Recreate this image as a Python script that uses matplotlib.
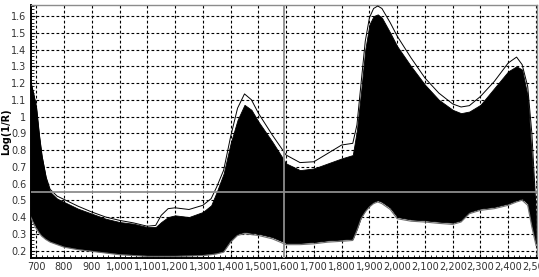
import matplotlib
matplotlib.use("Agg")
import matplotlib.pyplot as plt
from matplotlib.ticker import FuncFormatter, MultipleLocator

# wavelength grid (nm)
wl = [680, 690, 700, 710, 720, 735, 750, 775, 800, 850, 900, 950, 1000, 1050,
      1100, 1130, 1150, 1175, 1200, 1250, 1300, 1330, 1350, 1375, 1400, 1425,
      1450, 1475, 1500, 1550, 1600, 1650, 1700, 1750, 1800, 1840, 1855, 1870,
      1885, 1900, 1915, 1930, 1945, 1975, 2000, 2050, 2100, 2150, 2200, 2230,
      2260, 2300, 2350, 2400, 2430, 2450, 2470, 2485, 2500]

# upper edge of the bundle of spectra
band_top = [1.20, 1.13, 1.05, 0.89, 0.76, 0.63, 0.55, 0.51, 0.49, 0.45, 0.42,
            0.39, 0.37, 0.36, 0.34, 0.34, 0.37, 0.40, 0.41, 0.40, 0.43, 0.47,
            0.55, 0.66, 0.84, 0.98, 1.07, 1.04, 0.97, 0.85, 0.72, 0.68, 0.69,
            0.72, 0.75, 0.77, 0.92, 1.15, 1.40, 1.55, 1.60, 1.61, 1.59, 1.50,
            1.42, 1.30, 1.19, 1.10, 1.04, 1.02, 1.03, 1.07, 1.17, 1.27, 1.30,
            1.28, 1.12, 0.75, 0.40]

# lower edge of the bundle
band_bottom = [0.41, 0.37, 0.34, 0.31, 0.29, 0.27, 0.255, 0.24, 0.225, 0.21,
               0.20, 0.19, 0.18, 0.175, 0.17, 0.17, 0.17, 0.17, 0.17, 0.172,
               0.175, 0.18, 0.185, 0.20, 0.26, 0.30, 0.31, 0.305, 0.30, 0.28,
               0.245, 0.245, 0.25, 0.26, 0.265, 0.27, 0.33, 0.40, 0.44, 0.47,
               0.49, 0.50, 0.49, 0.455, 0.40, 0.385, 0.38, 0.372, 0.366, 0.38,
               0.43, 0.45, 0.46, 0.48, 0.50, 0.51, 0.48, 0.35, 0.24]

# highest single spectrum, drawn apart from the bundle
top_spectrum = [1.21, 1.14, 1.06, 0.90, 0.77, 0.64, 0.565, 0.525, 0.505, 0.465,
                0.43, 0.40, 0.38, 0.365, 0.345, 0.35, 0.41, 0.45, 0.455, 0.445,
                0.47, 0.51, 0.58, 0.68, 0.88, 1.05, 1.135, 1.10, 1.02, 0.89,
                0.77, 0.725, 0.73, 0.78, 0.83, 0.84, 0.95, 1.20, 1.45, 1.59,
                1.645, 1.66, 1.645, 1.56, 1.48, 1.35, 1.23, 1.14, 1.075, 1.057,
                1.065, 1.12, 1.21, 1.32, 1.355, 1.31, 1.18, 0.90, 0.45]

# lowest single spectrum, just under the bundle
low_spectrum = [0.40, 0.36, 0.33, 0.305, 0.285, 0.265, 0.25, 0.235, 0.22,
                0.205, 0.195, 0.185, 0.175, 0.17, 0.165, 0.165, 0.165, 0.165,
                0.165, 0.167, 0.17, 0.175, 0.18, 0.19, 0.25, 0.29, 0.30, 0.295,
                0.29, 0.27, 0.235, 0.235, 0.24, 0.25, 0.255, 0.26, 0.32, 0.39,
                0.43, 0.46, 0.48, 0.49, 0.48, 0.445, 0.39, 0.375, 0.37, 0.362,
                0.356, 0.37, 0.42, 0.44, 0.45, 0.47, 0.49, 0.50, 0.47, 0.34,
                0.23]

CROSS_X = 1592
CROSS_Y = 0.547


def main():
    fig = plt.figure(figsize=(5.39, 2.77), dpi=100)
    ax = fig.add_axes([0.057, 0.069, 0.939, 0.913])

    ax.fill_between(wl, band_bottom, band_top, color="black", lw=0.6, zorder=2)
    ax.plot(wl, top_spectrum, color="black", lw=0.7, zorder=3)
    ax.plot(wl, low_spectrum, color="#6e6e6e", lw=0.8, zorder=3)

    ax.axvline(CROSS_X, color="#8c8c8c", lw=1.3, zorder=4)
    ax.axhline(CROSS_Y, color="#8c8c8c", lw=1.3, zorder=4)

    ax.set_xlim(680, 2503)
    ax.set_ylim(0.156, 1.666)

    ax.xaxis.set_major_locator(MultipleLocator(100))
    ax.xaxis.set_minor_locator(MultipleLocator(20))
    ax.yaxis.set_major_locator(MultipleLocator(0.1))
    ax.yaxis.set_minor_locator(MultipleLocator(0.02))
    ax.xaxis.set_major_formatter(FuncFormatter(lambda v, p: f"{v:,.0f}"))
    ax.yaxis.set_major_formatter(FuncFormatter(lambda v, p: f"{v:g}"))

    ax.grid(True, which="major", color="black", ls=(0, (2.5, 2)), lw=0.8, zorder=1)
    ax.tick_params(which="both", direction="in", labelsize=7, colors="black",
                   labelcolor="#333333", pad=3)
    ax.tick_params(which="major", length=3, width=0.8)
    ax.tick_params(which="minor", length=2, width=0.6)

    for side in ("left", "bottom"):
        ax.spines[side].set_linewidth(1.4)
        ax.spines[side].set_color("black")
    for side in ("top", "right"):
        ax.spines[side].set_linewidth(1.0)
        ax.spines[side].set_color("#8c8c8c")

    ax.set_ylabel("Log(1/R)", fontsize=7, fontweight="bold", labelpad=0)

    fig.savefig("out.png", dpi=100)


if __name__ == "__main__":
    main()
